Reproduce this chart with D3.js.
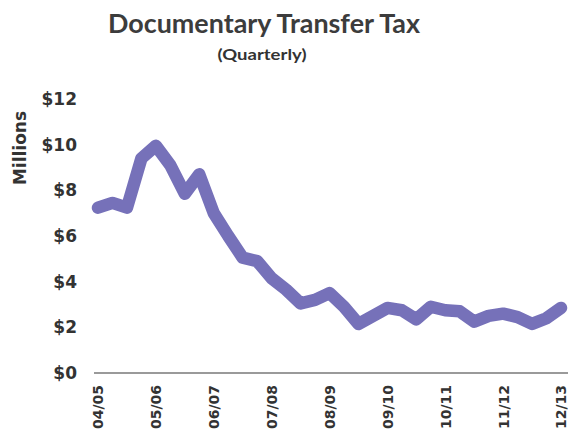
<!DOCTYPE html>
<html>
<head>
<meta charset="utf-8">
<script src="https://cdn.jsdelivr.net/npm/d3@7"></script>
<style>
  html, body { margin: 0; padding: 0; background: #fff; }
  svg { display: block; }
</style>
</head>
<body>
<svg id="chart" width="570" height="431"></svg>
<script>
// ---- data ----
const fiscalYears = ["04/05", "05/06", "06/07", "07/08", "08/09", "09/10", "10/11", "11/12", "12/13"];
const quarters = [];
fiscalYears.forEach((fy, i) => {
  const n = i === fiscalYears.length - 1 ? 1 : 4;
  for (let q = 1; q <= n; q++) quarters.push(fy + " Q" + q);
});
const taxMillions = [7.24, 7.45, 7.24, 9.4, 9.95, 9.1, 7.85, 8.7, 7.0, 6.0, 5.05, 4.9,
                     4.15, 3.65, 3.05, 3.2, 3.5, 2.9, 2.15, 2.5, 2.85, 2.75, 2.35, 2.9,
                     2.75, 2.7, 2.25, 2.5, 2.6, 2.45, 2.15, 2.4, 2.85];
const yTicks = [0, 2, 4, 6, 8, 10, 12];

// ---- chart ----
const svg = d3.select("#chart");
const x = d3.scalePoint().domain(quarters).range([98, 561]);
const y = d3.scaleLinear().domain([0, 12]).range([373, 99]);

// title
svg.append("text")
  .attr("x", 264).attr("y", 33)
  .attr("text-anchor", "middle")
  .attr("font-family", "Lato, 'Open Sans', sans-serif")
  .attr("font-weight", "bold").attr("font-size", 27)
  .attr("fill", "#3c3c3c")
  .attr("textLength", 312).attr("lengthAdjust", "spacingAndGlyphs")
  .text("Documentary Transfer Tax");
svg.append("text")
  .attr("x", 262).attr("y", 60)
  .attr("text-anchor", "middle")
  .attr("font-family", "Lato, 'Open Sans', sans-serif")
  .attr("font-weight", "bold").attr("font-size", 16)
  .attr("fill", "#333")
  .attr("textLength", 89).attr("lengthAdjust", "spacingAndGlyphs")
  .text("(Quarterly)");

// y axis (labels only)
const yAxis = d3.axisLeft(y).tickValues(yTicks).tickSize(0).tickPadding(0)
  .tickFormat(d => "$" + d);
const yg = svg.append("g").attr("transform", "translate(77,0)").call(yAxis);
yg.select(".domain").remove();
yg.selectAll("text")
  .attr("font-family", "'DejaVu Sans', sans-serif")
  .attr("font-weight", "bold").attr("font-size", 17)
  .attr("fill", "#333");

svg.append("text")
  .attr("transform", "translate(20,148) rotate(-90)")
  .attr("text-anchor", "middle").attr("dy", "0.35em")
  .attr("font-family", "'DejaVu Sans', sans-serif")
  .attr("font-weight", "bold").attr("font-size", 17)
  .attr("fill", "#333")
  .text("Millions");

// x axis
const xAxis = d3.axisBottom(x)
  .tickValues(quarters.filter(q => q.endsWith("Q1")))
  .tickFormat(q => q.split(" ")[0])
  .tickSize(0).tickPadding(0);
const xg = svg.append("g").attr("transform", "translate(0,373)").call(xAxis);
xg.select(".domain").remove();
xg.selectAll("text")
  .attr("font-family", "'DejaVu Sans', sans-serif")
  .attr("font-weight", "bold").attr("font-size", 14)
  .attr("fill", "#333")
  .attr("text-anchor", "end")
  .attr("transform", "translate(0,12) rotate(-90)")
  .attr("x", 0).attr("y", 0).attr("dy", "0.35em");

// baseline
svg.append("line")
  .attr("x1", 94).attr("x2", 568)
  .attr("y1", y(0)).attr("y2", y(0))
  .attr("stroke", "#9a9a9a").attr("stroke-width", 2);

// line
const line = d3.line().x((d, i) => x(quarters[i])).y(d => y(d));
svg.append("path")
  .datum(taxMillions)
  .attr("d", line)
  .attr("fill", "none")
  .attr("stroke", "#7671b9")
  .attr("stroke-width", 12.5)
  .attr("stroke-linejoin", "round")
  .attr("stroke-linecap", "round");
</script>
</body>
</html>
